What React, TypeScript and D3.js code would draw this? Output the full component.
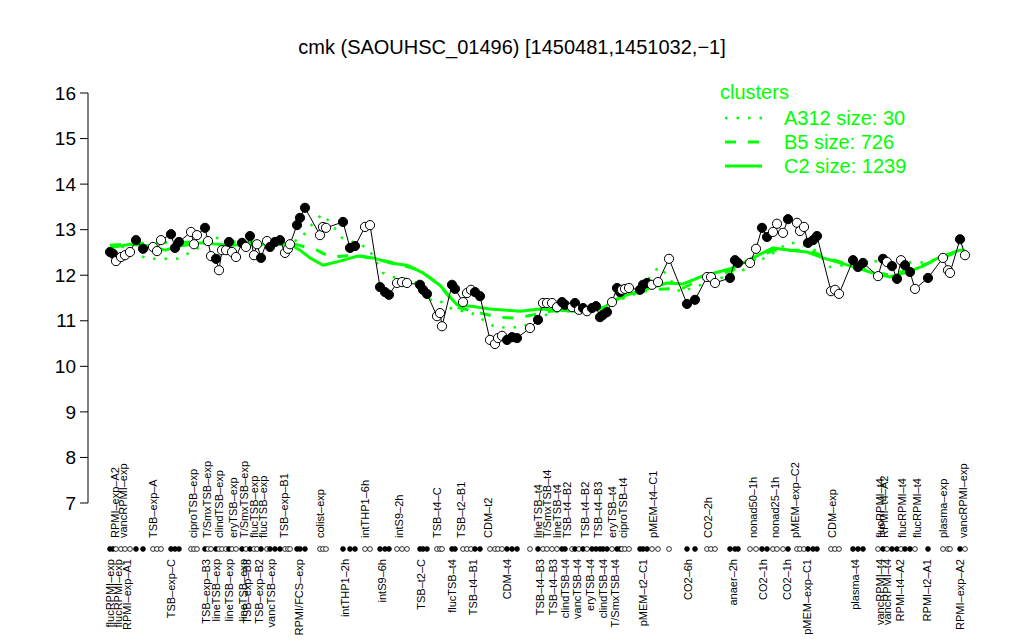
import React from "react";
import * as d3 from "d3";

const W = 1024;
const H = 640;
const title = "cmk (SAOUHSC_01496) [1450481,1451032,\u22121]";
const yTicks = [7, 8, 9, 10, 11, 12, 13, 14, 15, 16];

// sample positions (ordering axis), expression values, filled marker flag
const pointPos = [
  0, 0.6, 1.2, 2.2, 3, 4, 5.2, 6.6, 8.6, 9.4, 10.2, 12.2, 13, 13.8, 16.2, 16.8, 17.4,
  19, 19.6, 20.2, 21.2, 21.8, 22.4, 23.2, 23.8, 24.4, 25.2, 26.4, 27.2, 28, 28.8, 29.4,
  30.2, 31.4, 32, 33, 34, 35, 35.6, 36, 37.4, 38, 39, 42, 42.6, 43.2, 46.6, 48, 49,
  51, 52, 54, 55, 55.8, 57.4, 58.4, 59.4, 62, 62.6, 63.4, 65.4, 66, 66.4, 68.4, 69,
  70.6, 71.4, 72.2, 73, 74, 76, 77, 77.6, 78.4, 79.4, 80.4, 81.4, 84, 85.6, 86.6, 87.4,
  88.4, 89.4, 90.4, 91, 92.4, 93, 93.8, 94.6, 95.4, 96.4, 97.2, 98, 98.6, 99.4, 100.4,
  101.4, 102, 102.4, 103, 103.8, 106, 106.6, 107.4, 108.4, 109.6, 111.8, 115.4, 117,
  119.4, 120.2, 121, 124, 125, 125.6, 128, 129.2, 130.4, 131.4, 132.6, 133.4, 134.6,
  135.6, 137.4, 138, 138.8, 139.6, 140.6, 141.4, 144.2, 145, 145.8, 148.6, 149.6, 150.6,
  153.6, 154.6, 155.4, 156.4, 157.4, 158.2, 159, 160, 161, 163.6, 166.6, 167.6, 168,
  170, 171,
];
const pointVal = [
  12.51, 12.47, 12.31, 12.4, 12.44, 12.51, 12.77, 12.58, 12.62, 12.53, 12.77, 12.9, 12.6, 12.73, 12.95, 12.68, 12.88,
  13.04, 12.75, 12.42, 12.36, 12.11, 12.55, 12.55, 12.73, 12.51, 12.4, 12.71, 12.62, 12.86, 12.44, 12.68,
  12.38, 12.75, 12.62, 12.73, 12.77, 12.49, 12.58, 12.68, 13.1, 13.26, 13.48, 12.88, 13.06, 13.04, 13.17, 12.6, 12.64,
  13.06, 13.1, 11.74, 11.63, 11.57, 11.83, 11.85, 11.83, 11.79, 11.68, 11.59, 11.1, 11.17, 10.88, 11.79, 11.7,
  11.41, 11.61, 11.68, 11.63, 11.54, 10.58, 10.49, 10.62, 10.67, 10.58, 10.64, 10.62, 10.84, 11.02, 11.39, 11.39,
  11.39, 11.3, 11.41, 11.35, 11.3, 11.39, 11.24, 11.28, 11.21, 11.28, 11.32, 11.08, 11.13, 11.19, 11.41,
  11.72, 11.63, 11.68, 11.7, 11.72, 11.68, 11.79, 11.83, 11.79, 11.85, 12.36, 11.37, 11.46,
  11.96, 11.96, 11.83, 11.94, 12.33, 12.27, 12.27, 12.58, 13.04, 12.84, 12.95, 13.13, 12.93,
  13.23, 13.15, 12.97, 13.06, 12.71, 12.77, 12.86, 11.65, 11.68, 11.59, 12.33, 12.18, 12.27,
  11.98, 12.36, 12.29, 12.2, 11.92, 12.33, 12.22, 12.07, 11.7, 11.94, 12.38, 12.11, 12.05,
  12.79, 12.44,
];
const pointFilled = [
  1, 1, 0, 0, 0, 0, 1, 1, 0, 0, 0, 1, 1, 1, 0, 0, 0,
  1, 0, 0, 1, 0, 0, 0, 1, 0, 0, 1, 0, 1, 0, 0,
  1, 0, 1, 1, 1, 0, 0, 0, 1, 1, 1, 0, 0, 0, 1, 1, 1,
  0, 0, 1, 1, 1, 0, 0, 0, 1, 1, 1, 0, 0, 0, 1, 1,
  0, 0, 0, 1, 1, 0, 0, 0, 0, 1, 1, 1, 0, 1, 0, 0,
  0, 0, 1, 1, 0, 1, 0, 1, 0, 1, 1, 1, 1, 1, 0,
  1, 1, 0, 0, 0, 1, 1, 1, 0, 0, 0, 1, 1,
  0, 0, 0, 1, 1, 1, 0, 0, 1, 1, 0, 0, 0,
  1, 0, 0, 0, 1, 1, 1, 0, 0, 0, 1, 1, 1,
  0, 1, 0, 1, 1, 0, 1, 1, 0, 1, 0, 0, 0,
  1, 0,
];

// condition labels above the marker row
const topLabelText = [
  "RPMI\u2013exp\u2013A2", "vancRPMI\u2013exp", "TSB\u2013exp\u2013A", "ciproTSB\u2013exp", "T/SmxTSB\u2013exp",
  "clindTSB\u2013exp", "eryTSB\u2013exp", "T/SmxTSB\u2013exp", "flucTSB\u2013exp", "flucTSB\u2013exp",
  "TSB\u2013exp\u2013B1", "colist\u2013exp", "intTHP1\u20136h", "intS9\u20132h", "TSB\u2013t4\u2013C",
  "TSB\u2013t2\u2013B1", "CDM\u2013t2", "lineTSB\u2013t4", "T/SmxTSB\u2013t4", "lineTSB\u2013t4",
  "TSB\u2013t4\u2013B2", "TSB\u2013t4\u2013B2", "TSB\u2013t4\u2013B3", "eryTSB\u2013t4", "ciproTSB\u2013t4",
  "pMEM\u2013t4\u2013C1", "CO2\u20132h", "nonad50\u20131h", "nonad25\u20131h", "pMEM\u2013exp\u2013C2",
  "CDM\u2013exp", "flucRPMI\u2013t4", "RPMI\u2013t4\u2013A2", "flucRPMI\u2013t4", "flucRPMI\u2013t4",
  "plasma\u2013exp", "vancRPMI\u2013exp",
];
const topLabelPos = [
  1, 2.6, 8.6, 16.6, 19.4, 21.8, 24.6, 26.8, 28.8, 30.6, 34.8, 42, 51, 57.8, 65.4, 70.2, 75.6,
  85.6, 87.4, 89.4, 91.4, 95, 97.6, 100.4, 102.6, 108.6, 119.6, 128.6, 133, 137, 144.4, 154,
  154.8, 158.4, 161.4, 166.6, 170.6,
];
// condition labels below the marker row
const botLabelText = [
  "flucRPMI\u2013exp", "flucRPMI\u2013exp", "RPMI\u2013exp\u2013A1", "TSB\u2013exp\u2013C", "TSB\u2013exp\u2013B3",
  "lineTSB\u2013exp", "lineTSB\u2013exp", "lineTSB\u2013exp", "TSB\u2013exp\u2013B3", "TSB\u2013exp\u2013B2",
  "vancTSB\u2013exp", "RPMI/FCS\u2013exp", "intTHP1\u20132h", "intS9\u20136h", "TSB\u2013t2\u2013C",
  "flucTSB\u2013t4", "TSB\u2013t4\u2013B1", "CDM\u2013t4", "TSB\u2013t4\u2013B3", "TSB\u2013t4\u2013B3",
  "clindTSB\u2013t4", "vancTSB\u2013t4", "eryTSB\u2013t4", "clindTSB\u2013t4", "T/SmxTSB\u2013t4",
  "pMEM\u2013t2\u2013C1", "CO2\u20136h", "anaer\u20132h", "CO2\u20131h", "CO2\u20131h", "pMEM\u2013exp\u2013C1",
  "plasma\u2013t4", "vancRPMI\u2013t4", "vancRPMI\u2013t4", "RPMI\u2013t4\u2013A2", "RPMI\u2013t2\u2013A1",
  "RPMI\u2013exp\u2013A2",
];
const botLabelPos = [
  0, 1.6, 3.4, 12.2, 19.2, 21.2, 23.8, 26.6, 27.4, 29.8, 32.2, 37.8, 47, 54.4, 62.2, 68.4, 72.6,
  79.4, 86, 88.6, 91, 93.4, 96, 98.6, 101, 106.6, 115.6, 124.6, 130.6, 135.4, 139.4, 149, 154,
  155.4, 158, 163.4, 170,
];

// cluster profiles
const c2Pos = [0, 4, 8, 11, 14, 18, 24, 30, 36, 38, 40, 42.6, 46, 49.4, 52.6, 56, 59.4, 62.6, 66, 68, 69.4, 73.4, 76, 82, 86, 93.4, 98.6, 102, 108, 111.4, 114.6, 118, 124.6, 128.6, 132.6, 136, 139.4, 142.6, 146, 149.4, 152.6, 156, 159.4, 162.6, 166, 170, 171];
const c2Val = [12.6, 12.68, 12.64, 12.55, 12.64, 12.71, 12.66, 12.68, 12.68, 12.55, 12.38, 12.22, 12.31, 12.42, 12.38, 12.27, 12.22, 12.05, 11.78, 11.52, 11.35, 11.3, 11.26, 11.21, 11.26, 11.21, 11.28, 11.52, 11.72, 11.83, 11.81, 11.96, 12.16, 12.38, 12.6, 12.55, 12.51, 12.38, 12.27, 12.16, 12.05, 11.96, 12.07, 12.2, 12.4, 12.55, 12.55];
const b5Pos = [0, 8, 18, 30, 36, 41.4, 44, 49.4, 56, 62, 66, 69.4, 73.4, 77.4, 81.4, 84.6, 88, 98, 102, 108, 114.6, 118, 124.6, 132.6, 139.4, 146, 152.6, 156, 162.6, 170, 171];
const b5Val = [12.66, 12.71, 12.73, 12.73, 12.71, 12.55, 12.4, 12.44, 12.29, 12.11, 11.78, 11.3, 11.19, 11.08, 11.06, 11.13, 11.21, 11.26, 11.5, 11.68, 11.72, 11.9, 12.11, 12.55, 12.55, 12.29, 12.07, 12.0, 12.22, 12.53, 12.53];
const a312Pos = [0, 3, 6, 7.4, 13.4, 17, 21, 24, 30, 36, 38.4, 39.4, 42.4, 44, 46.4, 51.6, 54.6, 56.6, 60.6, 64.6, 66.4, 68.6, 72, 77.4, 79.4, 82.6, 84.6, 88.6, 98, 102, 106, 108.6, 110, 111.4, 114, 118, 126.6, 133, 135.6, 137.6, 141, 144, 145.4, 152.6, 162, 168, 170.6];
const a312Val = [12.62, 12.62, 12.44, 12.36, 12.36, 12.55, 12.84, 12.68, 12.68, 12.71, 12.82, 13.0, 13.34, 13.17, 12.82, 12.6, 12.05, 11.96, 11.9, 11.41, 11.41, 11.24, 11.19, 10.84, 10.86, 10.86, 11.02, 11.19, 11.24, 11.46, 11.63, 12.07, 12.18, 12.0, 11.63, 11.78, 12.11, 12.51, 12.71, 12.71, 12.55, 12.18, 12.2, 12.31, 12.27, 12.42, 12.64];

const legendTitle = "clusters";
const legendNames = ["A312 size: 30", "B5 size: 726", "C2 size: 1239"];
const legendDash = ["2.5 9", "11 12", ""];

const GREEN = "#00ff00";
const FONT = "'Liberation Sans', Arial, Helvetica, sans-serif";

export default function App() {
  const x = d3.scaleLinear().domain([0, 171]).range([110, 965]);
  const y = d3.scaleLinear().domain([7, 16]).range([503, 93]);
  const axisX = 88;
  const rowY = 549;

  const mkLine = (pos: number[], val: number[]) =>
    d3.line<number>().x((_, i) => x(pos[i])).y((v) => y(v))(val) || "";

  const clusterPaths = [
    { d: mkLine(a312Pos, a312Val), dash: legendDash[0], w: 2.5 },
    { d: mkLine(b5Pos, b5Val), dash: legendDash[1], w: 3 },
    { d: mkLine(c2Pos, c2Val), dash: legendDash[2], w: 3 },
  ];
  const dataPath = mkLine(pointPos, pointVal);

  return (
    <svg width={W} height={H} style={{ position: "absolute", left: 0, top: 0, background: "#fff" }} fontFamily={FONT}>
      <rect x={0} y={0} width={W} height={H} fill="#fff" />
      <text x={512} y={54} textAnchor="middle" fontSize={20} fill="#000">{title}</text>

      {/* y axis */}
      <line x1={axisX} x2={axisX} y1={y(7)} y2={y(16)} stroke="#000" strokeWidth={1} />
      {yTicks.map((t) => (
        <g key={t}>
          <line x1={axisX - 8} x2={axisX} y1={y(t)} y2={y(t)} stroke="#000" />
          <text x={axisX - 12} y={y(t)} dy="0.35em" textAnchor="end" fontSize={19} fill="#000">{t}</text>
        </g>
      ))}

      {/* cluster lines */}
      {clusterPaths.map((c, i) => (
        <path key={i} d={c.d} fill="none" stroke={GREEN} strokeWidth={c.w} strokeDasharray={c.dash || undefined} strokeLinejoin="round" />
      ))}

      {/* data */}
      <path d={dataPath} fill="none" stroke="#000" strokeWidth={1} />
      {pointVal.map((v, i) => (
        <circle key={i} cx={x(pointPos[i])} cy={y(v)} r={4.6} fill={pointFilled[i] ? "#000" : "#fff"} stroke="#000" strokeWidth={1} />
      ))}

      {/* marker row */}
      {pointPos.map((p, i) => (
        <circle key={"m" + i} cx={x(p)} cy={rowY} r={2.4} fill={pointFilled[i] ? "#000" : "#fff"} stroke="#000" strokeWidth={0.8} />
      ))}
      {topLabelText.map((t, i) => (
        <text key={"t" + i} transform={`translate(${x(topLabelPos[i])},${rowY - 11}) rotate(-90)`} dy="0.35em" textAnchor="start" fontSize={11} fill="#000">{t}</text>
      ))}
      {botLabelText.map((t, i) => (
        <text key={"b" + i} transform={`translate(${x(botLabelPos[i])},${rowY + 10}) rotate(-90)`} dy="0.35em" textAnchor="end" fontSize={11} fill="#000">{t}</text>
      ))}

      {/* legend */}
      <text x={720} y={99} fontSize={20} fill={GREEN}>{legendTitle}</text>
      {legendNames.map((n, i) => (
        <g key={n}>
          <line x1={725} x2={762} y1={118 + i * 24} y2={118 + i * 24} stroke={GREEN} strokeWidth={i === 0 ? 2.5 : 3} strokeDasharray={legendDash[i] || undefined} />
          <text x={784} y={118 + i * 24} dy="0.35em" fontSize={20} fill={GREEN}>{n}</text>
        </g>
      ))}
    </svg>
  );
}
